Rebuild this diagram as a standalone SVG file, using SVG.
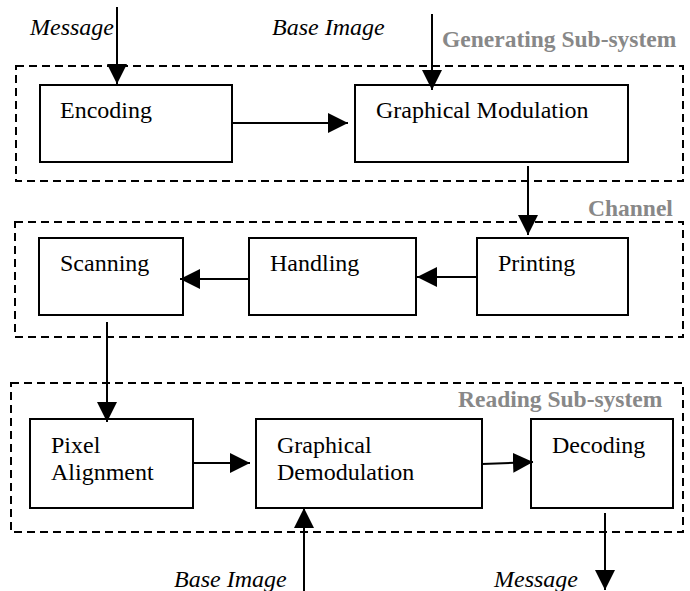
<svg xmlns="http://www.w3.org/2000/svg" width="690" height="591" viewBox="0 0 690 591">
  <style>
    .box { fill: #ffffff; stroke: #000000; stroke-width: 2; }
    .group { fill: none; stroke: #000000; stroke-width: 2; stroke-dasharray: 8 5; }
    .lbl { font-family: 'Times New Roman', 'Liberation Serif', 'Noto Serif', serif; font-size: 24px; fill: #000000; }
    .io { font-family: 'Times New Roman', 'Liberation Serif', 'Noto Serif', serif; font-size: 24px; font-style: italic; fill: #000000; }
    .grp { font-family: 'Liberation Serif', 'Times New Roman', serif; font-size: 23.5px; font-weight: bold; fill: #888888; }
    .edge { fill: none; stroke: #000000; stroke-width: 2; marker-end: url(#head); }
  </style>
  <defs>
    <marker id="head" markerUnits="userSpaceOnUse" markerWidth="20" markerHeight="20" viewBox="0 0 20 20" refX="20" refY="10" orient="auto">
      <path d="M0,0 L20,10 L0,20 Z" fill="#000000"/>
    </marker>
  </defs>

  <rect width="690" height="591" fill="#ffffff"/>

  <!-- sub-system frames -->
  <g id="generating-subsystem">
    <rect class="group" x="16" y="66" width="667" height="115"/>
    <text class="grp" x="442" y="47">Generating Sub-system</text>
  </g>
  <g id="channel">
    <rect class="group" x="15" y="222" width="668" height="115"/>
    <text class="grp" x="588" y="216">Channel</text>
  </g>
  <g id="reading-subsystem">
    <rect class="group" x="11" y="383" width="672" height="149"/>
    <text class="grp" x="458" y="407">Reading Sub-system</text>
  </g>

  <!-- processing blocks -->
  <g id="encoding">
    <rect class="box" x="40" y="85" width="192" height="77"/>
    <text class="lbl" x="60" y="118">Encoding</text>
  </g>
  <g id="graphical-modulation">
    <rect class="box" x="355" y="85" width="273" height="77"/>
    <text class="lbl" x="376" y="118">Graphical Modulation</text>
  </g>
  <g id="printing">
    <rect class="box" x="477" y="238" width="151" height="77"/>
    <text class="lbl" x="498" y="271">Printing</text>
  </g>
  <g id="handling">
    <rect class="box" x="249" y="238" width="167" height="77"/>
    <text class="lbl" x="270" y="271">Handling</text>
  </g>
  <g id="scanning">
    <rect class="box" x="39" y="238" width="144" height="77"/>
    <text class="lbl" x="60" y="271">Scanning</text>
  </g>
  <g id="pixel-alignment">
    <rect class="box" x="30" y="419" width="163" height="89"/>
    <text class="lbl" x="51" y="453">Pixel</text>
    <text class="lbl" x="51" y="480">Alignment</text>
  </g>
  <g id="graphical-demodulation">
    <rect class="box" x="256" y="419" width="226" height="89"/>
    <text class="lbl" x="277" y="453">Graphical</text>
    <text class="lbl" x="277" y="480">Demodulation</text>
  </g>
  <g id="decoding">
    <rect class="box" x="531" y="419" width="142" height="89"/>
    <text class="lbl" x="552" y="453">Decoding</text>
  </g>

  <!-- inputs and outputs -->
  <g id="message-in"><text class="io" x="30" y="35">Message</text></g>
  <g id="base-image-in"><text class="io" x="272" y="35">Base Image</text></g>
  <g id="base-image-read"><text class="io" x="174" y="587">Base Image</text></g>
  <g id="message-out"><text class="io" x="494" y="587">Message</text></g>

  <!-- connectors -->
  <g id="connectors">
    <line class="edge" x1="117" y1="7" x2="117" y2="84"/>
    <line class="edge" x1="432" y1="14" x2="432" y2="90"/>
    <line class="edge" x1="232" y1="123" x2="348" y2="123"/>
    <line class="edge" x1="528" y1="166" x2="528" y2="235"/>
    <line class="edge" x1="477" y1="277" x2="417" y2="277"/>
    <line class="edge" x1="249" y1="279" x2="180" y2="279"/>
    <line class="edge" x1="107" y1="322" x2="107" y2="422"/>
    <line class="edge" x1="193" y1="463" x2="250" y2="463"/>
    <line class="edge" x1="304" y1="591" x2="304" y2="508"/>
    <line class="edge" x1="482" y1="464" x2="533" y2="462"/>
    <line class="edge" x1="605" y1="513" x2="605" y2="590"/>
  </g>
</svg>
